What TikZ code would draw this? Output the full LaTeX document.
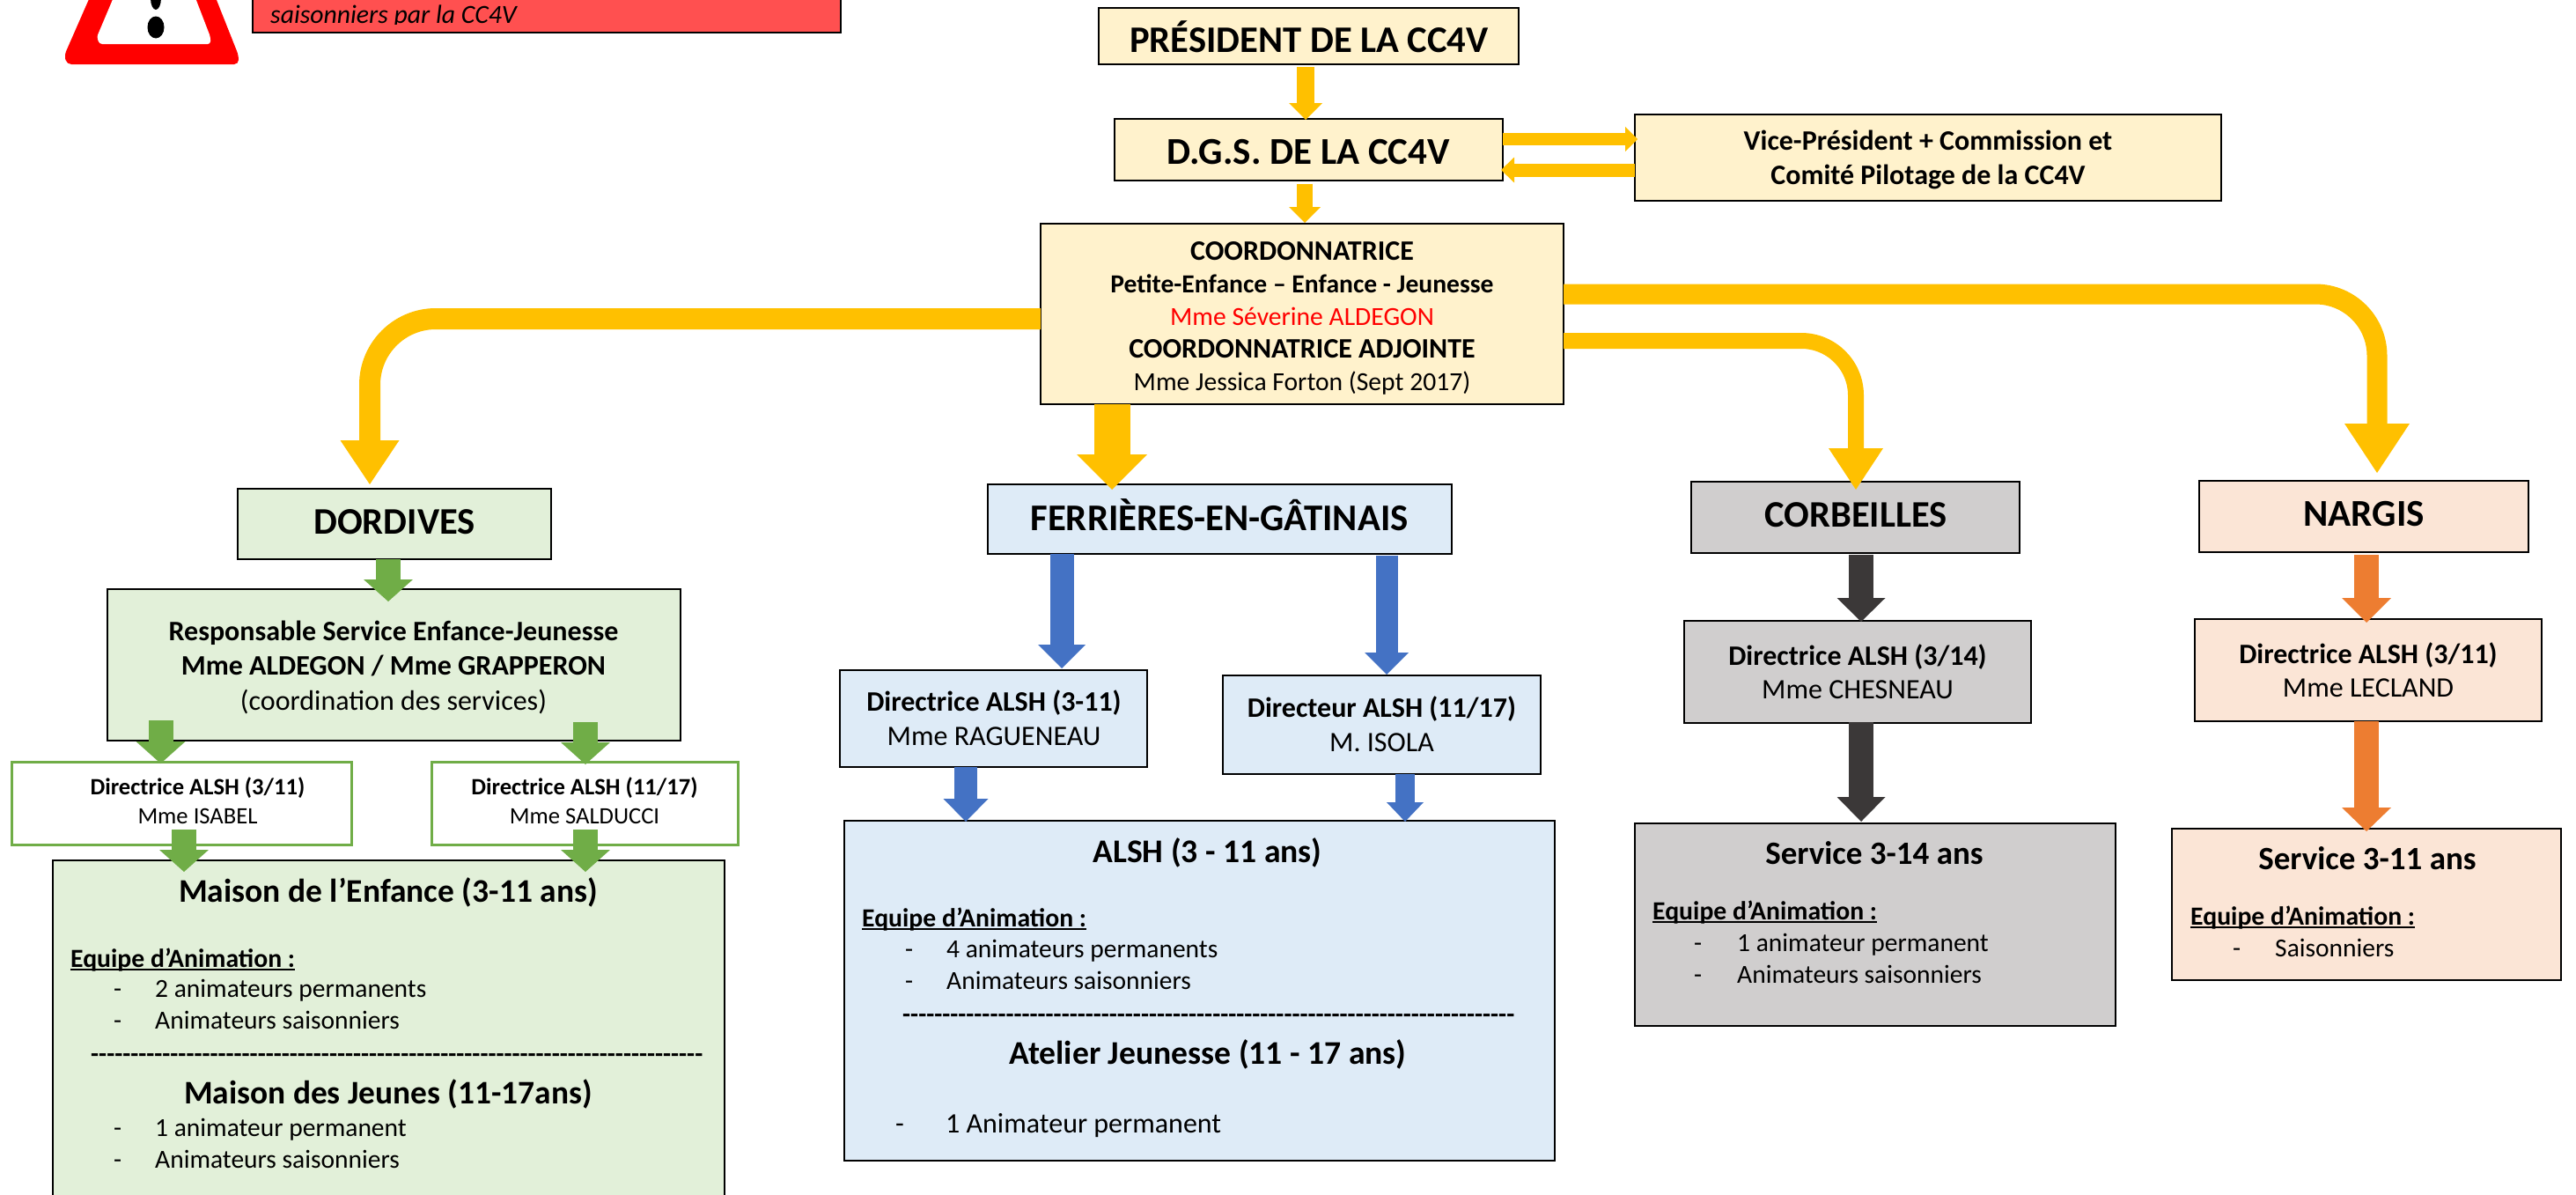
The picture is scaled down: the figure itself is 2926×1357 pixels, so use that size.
\documentclass[tikz,border=0pt]{standalone}
\usepackage{fontspec}
\setmainfont{Carlito}
\usetikzlibrary{arrows.meta}
\definecolor{yel}{HTML}{FFF2CC}
\definecolor{grn}{HTML}{E2F0D9}
\definecolor{blu}{HTML}{DEEBF7}
\definecolor{gry}{HTML}{D0CECE}
\definecolor{pch}{HTML}{FBE5D6}
\definecolor{arY}{HTML}{FFC000}
\definecolor{arG}{HTML}{70AD47}
\definecolor{arB}{HTML}{4472C4}
\definecolor{arK}{HTML}{3B3838}
\definecolor{arO}{HTML}{ED7D31}
\definecolor{warnred}{HTML}{FF5050}
\newcommand\fz[2]{\fontsize{#1}{#2}\selectfont}
\newcommand\ul[1]{\setbox0\hbox{#1}\rlap{\rule[-3.5pt]{\wd0}{2pt}}\box0}
\newcounter{lb}
\tikzset{
  x=1pt,y=-1pt,
  boxs/.style={draw=black,line width=1.4pt,inner sep=0pt,outer sep=0pt},
  flow/.style n args={4}{draw=#1,line width=#2pt,line cap=butt,
     -{Triangle[length=#3pt,width=#4pt,line width=0pt,fill=#1]}},
}
\newcommand\bbox[9]{%
  \pgfmathsetmacro\bxa{(#3+#5)/2}\pgfmathsetmacro\bya{(#4+#6)/2}%
  \pgfmathsetmacro\dxx{2*(#7-\bxa)}\pgfmathsetmacro\dyy{#8-\bya}%
  \pgfmathsetmacro\wid{#5-#3}\pgfmathsetmacro\hei{#6-#4}%
  \node[boxs,#1,minimum width=\wid pt,minimum height=\hei pt] (#2) at (\bxa,\bya)
    {\hspace*{\dxx pt}\raisebox{-\dyy pt}[0pt][0pt]{\begin{tabular}[t]{@{}c@{}}#9\end{tabular}}};}
\newcommand\lbl[4]{%
  \stepcounter{lb}%
  \node[anchor=base west,inner sep=0pt,font=\fz{#3}{#3}] (lb\arabic{lb}) at (#1,#2) {#4};}
\newcommand\lblc[4]{%
  \stepcounter{lb}%
  \node[anchor=base,inner sep=0pt,font=\fz{#3}{#3}] (lb\arabic{lb}) at (#1,#2) {#4};}
\newcommand\dashrow[3]{\lbl{#1}{#2}{29.5}{\bfseries\foreach \i in {1,...,#3}{-}}}
\begin{document}
\begin{tikzpicture}
\clip (0,0) rectangle (2926,1357);
% warning sign
\fill[red,rounded corners=5pt] (105,-10) -- (73,63) -- (76,73) -- (271,73) -- (271,63) -- (242,-10) -- cycle;
\fill[white,rounded corners=3pt] (132,-10) -- (110,42) -- (113,50) -- (239,50) -- (239,42) -- (219,-10) -- cycle;
\fill[black] (177,31) ellipse (9.5 and 12.5);
\fill[black] (177,-2) ellipse (6 and 13);
% warning box
\bbox{fill=warnred,font=\fz{26}{26}\itshape}{warn}{287}{-60}{955}{37}{447}{25}{\phantom{x}}
\begin{scope}
\clip (287,0) rectangle (955,27);
\node[anchor=base west,inner sep=0pt,font=\fz{29.7}{29.7}\itshape] (warntext) at (307,26.5) {saisonniers par la CC4V};
\end{scope}
% top boxes
\bbox{fill=yel,font=\fz{42.6}{40}\bfseries}{pres}{1248}{9}{1725}{73}{1487}{59}{PRÉSIDENT DE LA CC4V}
\bbox{fill=yel,font=\fz{43}{40}\bfseries}{dgs}{1266}{135}{1707}{205}{1486}{186}{D.G.S. DE LA CC4V}
\bbox{fill=yel,font=\fz{32}{39.5}\bfseries}{vice}{1857}{130}{2523}{228}{2190}{170}{Vice-Président + Commission et\\Comité Pilotage de la CC4V}
\bbox{fill=yel,font=\fz{29.6}{37}}{coord}{1182}{254}{1776}{459}{1479}{295}{\fontsize{32}{37}\selectfont\bfseries COORDONNATRICE\\\bfseries Petite-Enfance – Enfance - Jeunesse\\\textcolor{red}{Mme Séverine ALDEGON}\\\fontsize{32}{37}\selectfont\bfseries COORDONNATRICE ADJOINTE\\Mme Jessica Forton (Sept 2017)}
% Dordives column
\bbox{fill=grn,font=\fz{42.6}{40}\bfseries}{dor}{270}{555}{626}{635}{448}{606}{DORDIVES}
\bbox{fill=grn,font=\fz{32}{39.5}}{resp}{122}{669}{773}{841}{447}{727}{\bfseries Responsable Service Enfance-Jeunesse\\\bfseries Mme ALDEGON / Mme GRAPPERON\\(coordination des services)}
\bbox{fill=white,draw=arG,line width=3pt,font=\fz{26.6}{33}}{isa}{13}{865}{399}{959}{224.5}{902}{\bfseries Directrice ALSH (3/11)\\Mme ISABEL}
\bbox{fill=white,draw=arG,line width=3pt,font=\fz{26.6}{33}}{sal}{490}{865}{838}{959}{664}{902}{\bfseries Directrice ALSH (11/17)\\Mme SALDUCCI}
\bbox{fill=grn,font=\fz{37.5}{36}\bfseries}{mai}{60}{977}{823}{1400}{441}{1024}{Maison de l’Enfance (3-11 ans)}
% Ferrieres column
\bbox{fill=blu,font=\fz{42.8}{40}\bfseries}{fer}{1122}{550}{1649}{629}{1385}{602}{FERRIÈRES-EN-GÂTINAIS}
\bbox{fill=blu,font=\fz{32}{39}}{rag}{954}{761}{1303}{871}{1129}{807}{\bfseries Directrice ALSH (3-11)\\Mme RAGUENEAU}
\bbox{fill=blu,font=\fz{32}{39}}{iso}{1389}{767}{1750}{879}{1569.5}{814}{\bfseries Directeur ALSH (11/17)\\M. ISOLA}
\bbox{fill=blu,font=\fz{37.6}{36}\bfseries}{als}{959}{932}{1766}{1318}{1371.5}{979}{ALSH (3 - 11 ans)}
% Corbeilles column
\bbox{fill=gry,font=\fz{42.5}{40}\bfseries}{cor}{1921}{547}{2294}{628}{2108}{598}{CORBEILLES}
\bbox{fill=gry,font=\fz{32}{38}}{che}{1913}{705}{2307}{821}{2110}{755}{\bfseries Directrice ALSH (3/14)\\Mme CHESNEAU}
\bbox{fill=gry,font=\fz{37}{34}\bfseries}{sco}{1857}{935}{2403}{1165}{2129}{981}{Service 3-14 ans}
% Nargis column
\bbox{fill=pch,font=\fz{43}{40}\bfseries}{nar}{2498}{546}{2872}{627}{2685}{597}{NARGIS}
\bbox{fill=pch,font=\fz{32}{38}}{lec}{2493}{703}{2887}{819}{2690}{753.5}{\bfseries Directrice ALSH (3/11)\\Mme LECLAND}
\bbox{fill=pch,font=\fz{37}{34}\bfseries}{sna}{2467}{941}{2909}{1113}{2689}{987}{Service 3-11 ans}
% body text: Maison
\lbl{80}{1098}{29.7}{\bfseries\ul{Equipe d’Animation :}}
\lbl{129}{1132}{29.5}{-}\lbl{176}{1132}{29.5}{2 animateurs permanents}
\lbl{129}{1168}{29.5}{-}\lbl{176}{1168}{29.5}{Animateurs saisonniers}
\dashrow{103}{1206}{77}
\lblc{441}{1253}{37.4}{\bfseries Maison des Jeunes (11-17ans)}
\lbl{129}{1290}{29.5}{-}\lbl{176}{1290}{29.5}{1 animateur permanent}
\lbl{129}{1326}{29.5}{-}\lbl{176}{1326}{29.5}{Animateurs saisonniers}
% body text: ALSH
\lbl{979}{1052}{29.7}{\bfseries\ul{Equipe d’Animation :}}
\lbl{1028}{1087}{29.5}{-}\lbl{1075}{1087}{29.5}{4 animateurs permanents}
\lbl{1028}{1123}{29.5}{-}\lbl{1075}{1123}{29.5}{Animateurs saisonniers}
\dashrow{1025}{1161}{77}
\lblc{1372}{1208}{37.6}{\bfseries Atelier Jeunesse (11 - 17 ans)}
\lbl{1017}{1286}{32}{-}\lbl{1074}{1286}{32}{1 Animateur permanent}
% body text: Corbeilles
\lbl{1877}{1044}{29.7}{\bfseries\ul{Equipe d’Animation :}}
\lbl{1924}{1080}{29.5}{-}\lbl{1973}{1080}{29.5}{1 animateur permanent}
\lbl{1924}{1116}{29.5}{-}\lbl{1973}{1116}{29.5}{Animateurs saisonniers}
% body text: Nargis
\lbl{2488}{1050}{29.7}{\bfseries\ul{Equipe d’Animation :}}
\lbl{2536}{1086}{29.5}{-}\lbl{2584}{1086}{29.5}{Saisonniers}
% x positions of the straight connectors
\coordinate (xA) at (1483,0);\coordinate (xB) at (1482,0);
\coordinate (xC) at (1263,0);
\coordinate (xD) at (441,0);\coordinate (xE) at (182.5,0);\coordinate (xF) at (665,0);\coordinate (xG) at (209,0);
\coordinate (xH) at (1206,0);\coordinate (xI) at (1575,0);\coordinate (xJ) at (1097,0);\coordinate (xK) at (1596,0);
\coordinate (xL) at (2114,0);\coordinate (xM) at (2688,0);
\coordinate (xN) at (420,0);\coordinate (xO) at (2108,0);\coordinate (xP) at (2700,0);
% yellow connectors
\draw[flow={arY}{20}{19}{38}] ([yshift=-3pt]pres.south -| xA) -- ([yshift=-1pt]dgs.north -| xA);
\draw[flow={arY}{18}{18}{36}] ([yshift=-3.5pt]dgs.south -| xB) -- ([yshift=1pt]coord.north -| xB);
\draw[flow={arY}{14}{14}{28}] ([yshift=-23pt]dgs.north east) -- ([yshift=-28pt,xshift=3pt]vice.north west);
\draw[flow={arY}{15}{15}{29}] ([yshift=35pt]vice.south west) -- ([yshift=-58pt,xshift=-2pt]dgs.north east);
\draw[flow={arY}{41}{40}{80}] (coord.south -| xC) -- ([yshift=-6pt]fer.north -| xC);
\draw[flow={arY}{24}{50}{67},rounded corners=75pt] ([yshift=-5.5pt]coord.west) -- ([yshift=-5.5pt]coord.west -| xN) -- ([yshift=5pt]dor.north -| xN);
\draw[flow={arY}{18}{47}{62},rounded corners=62pt] ([yshift=-30.5pt]coord.east) -- ([yshift=-30.5pt]coord.east -| xO) -- ([yshift=-9pt]cor.north -| xO);
\draw[flow={arY}{23}{56}{74},rounded corners=70pt] ([yshift=22.5pt]coord.east) -- ([yshift=22.5pt]coord.east -| xP) -- ([yshift=9pt]nar.north -| xP);
% green connectors
\draw[flow={arG}{28}{25}{56}] (dor.south -| xD) -- ([yshift=-14pt]resp.north -| xD);
\draw[flow={arG}{28}{25}{56}] ([yshift=23pt]resp.south -| xE) -- ([yshift=-2pt]isa.north -| xE);
\draw[flow={arG}{28}{25}{56}] ([yshift=21pt]resp.south -| xF) -- ([yshift=-3pt]sal.north -| xF);
\draw[flow={arG}{28}{25}{56}] ([yshift=17pt]isa.south -| xG) -- ([yshift=-13pt]mai.north -| xG);
\draw[flow={arG}{28}{25}{56}] ([yshift=17pt]sal.south -| xF) -- ([yshift=-13pt]mai.north -| xF);
% blue connectors
\draw[flow={arB}{27}{27}{54}] (fer.south -| xH) -- ([yshift=2pt]rag.north -| xH);
\draw[flow={arB}{25}{25}{50}] ([yshift=-1.5pt]fer.south -| xI) -- ([yshift=1pt]iso.north -| xI);
\draw[flow={arB}{26}{26}{51}] (rag.south -| xJ) -- ([yshift=-1pt]als.north -| xJ);
\draw[flow={arB}{22}{22}{42}] (iso.south -| xK) -- ([yshift=-1pt]als.north -| xK);
% dark connectors
\draw[flow={arK}{28}{27}{55}] ([yshift=-2pt]cor.south -| xL) -- ([yshift=-1pt]che.north -| xL);
\draw[flow={arK}{28}{28}{55}] ([yshift=1pt]che.south -| xL) -- ([yshift=2pt]sco.north -| xL);
% orange connectors
\draw[flow={arO}{28}{28}{56}] ([yshift=-3pt]nar.south -| xM) -- ([yshift=-4pt]lec.north -| xM);
\draw[flow={arO}{28}{27}{56}] (lec.south -| xM) -- ([yshift=-3pt]sna.north -| xM);
\end{tikzpicture}
\end{document}
